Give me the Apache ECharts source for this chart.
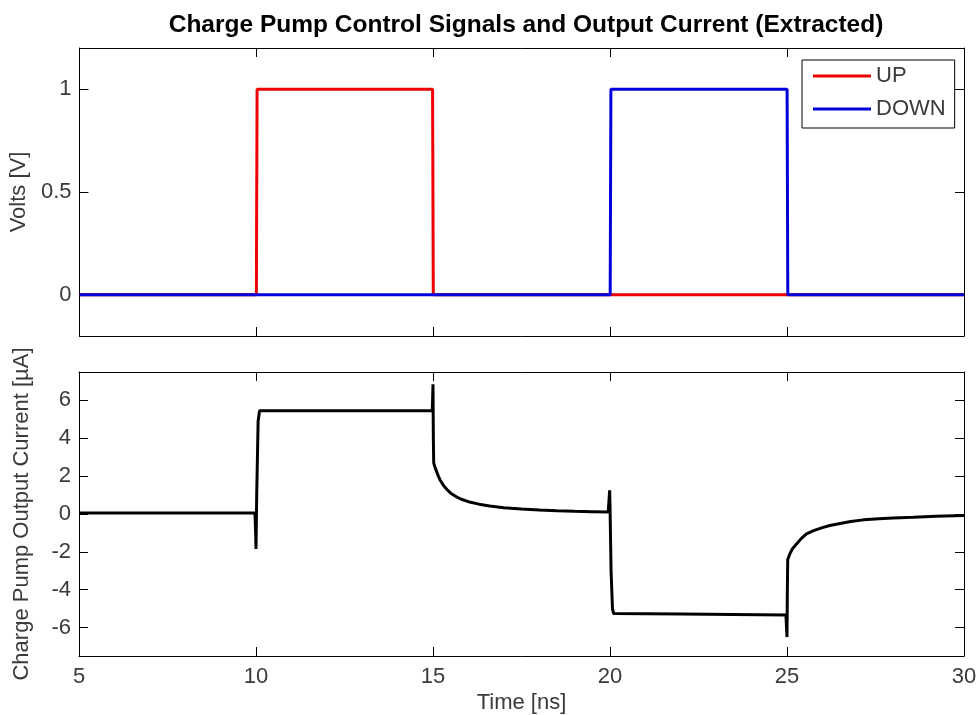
<!DOCTYPE html>
<html>
<head>
<meta charset="utf-8">
<title>Charge Pump Control Signals and Output Current</title>
<script src="https://cdn.jsdelivr.net/npm/echarts@6/dist/echarts.min.js"></script>
<style>
  html, body { margin: 0; padding: 0; background: #fff; }
  #chart { width: 980px; height: 715px; }
</style>
</head>
<body>
<div id="chart"></div>
<script>
// Time ticks (ns) shared by both panels
const timeTicks = [5, 10, 15, 20, 25, 30];
const voltTicks = [0, 0.5, 1];
const currentTicks = [-6, -4, -2, 0, 2, 4, 6];

// UP control signal (V)
const upTime  = [5, 10.0, 10.02, 14.98, 15.0, 30];
const upVolts = [0, 0,    1,     1,     0,    0];

// DOWN control signal (V)
const downTime  = [5, 20.0, 20.02, 25.0, 25.02, 30];
const downVolts = [0, 0,    1,     1,     0,     0];

// Charge pump output current (uA)
const currentTime = [
  5, 9.97, 9.99, 10.0, 10.02, 10.06, 10.1,
  14.98, 15.0, 15.01, 15.02, 15.06, 15.1, 15.15, 15.2, 15.3, 15.4, 15.5,
  15.65, 15.8, 16.0, 16.3, 16.6, 17.0, 17.5, 18.0, 18.5, 19.0, 19.5, 19.95,
  19.97, 19.99, 20.0, 20.03, 20.07, 20.1, 22.0, 24.97,
  25.0, 25.01, 25.02, 25.08, 25.15, 25.27, 25.4, 25.55, 25.75, 26.0, 26.21,
  26.5, 26.8, 27.16, 27.6, 28.0, 28.57, 29.2, 30
];
const currentValues = [
  0.05, 0.05, -1.0, -1.85, 1.0, 4.9, 5.45,
  5.45, 6.85, 4.0, 2.7, 2.45, 2.25, 2.0, 1.8, 1.5, 1.28, 1.1,
  0.92, 0.78, 0.65, 0.52, 0.42, 0.33, 0.26, 0.21, 0.17, 0.14, 0.12, 0.1,
  0.1, 1.25, 0.5, -3.0, -5.0, -5.25, -5.28, -5.33,
  -6.5, -4.0, -2.4, -2.11, -1.85, -1.58, -1.3, -1.05, -0.88, -0.72, -0.61,
  -0.5, -0.4, -0.31, -0.25, -0.21, -0.17, -0.12, -0.08
];

const zip = (xs, ys) => xs.map((x, i) => [x, ys[i]]);

const textColor = '#3a3a3a';
const labelFont = { fontFamily: 'Liberation Sans, Arial, sans-serif', fontSize: 22, color: textColor };

function xAxisFor(gridIndex, position, showLabels, name) {
  return {
    type: 'value', gridIndex, position,
    min: timeTicks[0], max: timeTicks[timeTicks.length - 1], interval: 5,
    axisLine: { show: true, onZero: false, lineStyle: { color: '#000', width: 1 } },
    axisTick: { show: true, inside: true, length: 9, lineStyle: { color: '#000' } },
    axisLabel: Object.assign({ show: showLabels, margin: 10 }, labelFont),
    splitLine: { show: false },
    name: name || '',
    nameLocation: 'middle',
    nameGap: 36,
    nameTextStyle: labelFont
  };
}

function yAxisFor(gridIndex, position, min, max, ticks, showLabels, name) {
  return {
    type: 'value', gridIndex, position, min, max,
    axisLine: { show: true, onZero: false, lineStyle: { color: '#000', width: 1 } },
    axisTick: { show: true, inside: true, length: 9, customValues: ticks, lineStyle: { color: '#000' } },
    axisLabel: Object.assign({ show: showLabels, margin: 8, customValues: ticks }, labelFont),
    splitLine: { show: false },
    name: name || '',
    nameLocation: 'middle',
    nameGap: 46,
    nameTextStyle: labelFont
  };
}

const chart = echarts.init(document.getElementById('chart'), null, { renderer: 'canvas' });

chart.setOption({
  animation: false,
  backgroundColor: '#fff',
  title: {
    text: 'Charge Pump Control Signals and Output Current (Extracted)',
    left: 521, top: 8, textAlign: 'center',
    textStyle: { fontFamily: 'Liberation Sans, Arial, sans-serif', fontSize: 24.5, fontWeight: 'bold', color: '#000' }
  },
  legend: {
    data: ['UP', 'DOWN'],
    orient: 'vertical',
    left: 802, top: 60,
    padding: [5, 9, 8, 11],
    icon: 'rect',
    itemWidth: 58, itemHeight: 3, itemGap: 11,
    backgroundColor: '#fff',
    borderColor: '#000', borderWidth: 1,
    textStyle: Object.assign({ lineHeight: 20 }, labelFont)
  },
  grid: [
    { left: 79, right: 16, top: 48, height: 288 },
    { left: 79, right: 16, top: 372, height: 285 }
  ],
  xAxis: [
    xAxisFor(0, 'bottom', false),
    xAxisFor(0, 'top', false),
    xAxisFor(1, 'bottom', true, 'Time [ns]'),
    xAxisFor(1, 'top', false)
  ],
  yAxis: [
    yAxisFor(0, 'left', -0.2, 1.2, voltTicks, true, 'Volts [V]'),
    yAxisFor(0, 'right', -0.2, 1.2, voltTicks, false),
    yAxisFor(1, 'left', -7.5, 7.5, currentTicks, true, 'Charge Pump Output Current [\u00b5A]'),
    yAxisFor(1, 'right', -7.5, 7.5, currentTicks, false)
  ],
  series: [
    {
      name: 'UP', type: 'line', xAxisIndex: 0, yAxisIndex: 0,
      data: zip(upTime, upVolts), symbol: 'none',
      lineStyle: { color: '#ee0000', width: 3 }, itemStyle: { color: '#ee0000' }
    },
    {
      name: 'DOWN', type: 'line', xAxisIndex: 0, yAxisIndex: 0,
      data: zip(downTime, downVolts), symbol: 'none',
      lineStyle: { color: '#0000dd', width: 3 }, itemStyle: { color: '#0000dd' }
    },
    {
      name: 'Current', type: 'line', xAxisIndex: 2, yAxisIndex: 2,
      data: zip(currentTime, currentValues), symbol: 'none',
      lineStyle: { color: '#000', width: 3 }, itemStyle: { color: '#000' }
    }
  ]
});
</script>
</body>
</html>
